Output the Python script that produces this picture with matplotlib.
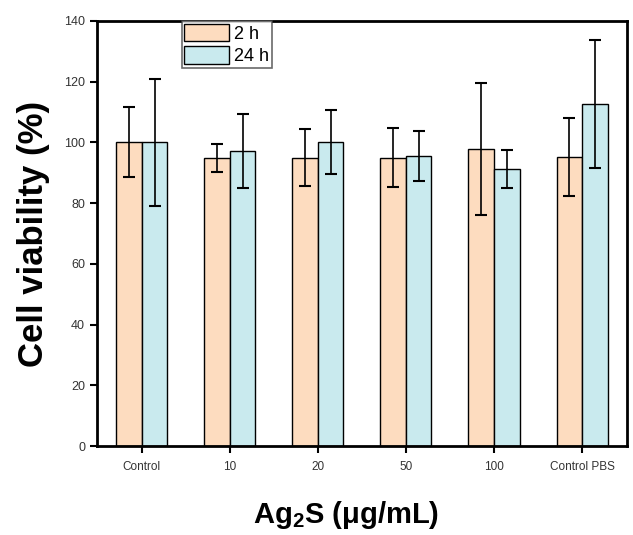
import numpy as np
import matplotlib.pyplot as plt

plt.rcParams['font.family'] = ['Liberation Sans', 'DejaVu Sans']
plt.rcParams['mathtext.fontset'] = 'custom'
plt.rcParams['mathtext.rm'] = 'Liberation Sans:bold'
plt.rcParams['mathtext.bf'] = 'Liberation Sans:bold'

categories = ['Control', '10', '20', '50', '100', 'Control PBS']
viability_2h = [100.0, 94.9, 95.0, 94.9, 97.8, 95.2]
err_2h = [11.5, 4.5, 9.5, 9.7, 21.6, 12.7]
viability_24h = [100.0, 97.2, 100.1, 95.5, 91.2, 112.6]
err_24h = [21.0, 12.2, 10.5, 8.2, 6.2, 21.0]

fig = plt.figure(figsize=(6.33, 5.35), dpi=100)
ax = fig.add_axes([0.153, 0.166, 0.8375, 0.795])

x = np.arange(len(categories))
width = 0.29

ax.bar(x - width / 2, viability_2h, width, color='#FDDCBF', edgecolor='black',
       linewidth=1.0, label='2 h')
ax.bar(x + width / 2, viability_24h, width, color='#C9EAEE', edgecolor='black',
       linewidth=1.0, label='24 h')
ax.errorbar(x - width / 2, viability_2h, yerr=err_2h, fmt='none', ecolor='black',
            elinewidth=1.2, capsize=4, capthick=1.5)
ax.errorbar(x + width / 2, viability_24h, yerr=err_24h, fmt='none', ecolor='black',
            elinewidth=1.2, capsize=4, capthick=1.5)

ax.set_xlim(-0.51, 5.51)
ax.set_ylim(0, 140)
ax.set_yticks(np.arange(0, 141, 20))
ax.set_xticks(x)
ax.set_xticklabels(categories)

for s in ax.spines.values():
    s.set_linewidth(2)
ax.tick_params(axis='both', direction='out', width=1.5, length=5, colors='black')
ax.tick_params(axis='y', labelsize=9, labelcolor='#333333')
ax.tick_params(axis='x', labelsize=8.5, labelcolor='#333333', pad=6)

ax.set_ylabel('Cell viability (%)', fontsize=25, fontweight='bold', labelpad=10)
ax.set_xlabel('Ag$_2$S (μg/mL)', fontsize=21, fontweight='bold')
ax.xaxis.set_label_coords(0.47, -0.125)

leg = ax.legend(loc='upper left', bbox_to_anchor=(0.16, 1.0), fontsize=13,
                frameon=True, fancybox=False, edgecolor='#444444',
                handlelength=2.45, handleheight=1.15, borderpad=0.15,
                labelspacing=0.2, handletextpad=0.3, borderaxespad=0)
leg.get_frame().set_linewidth(1.2)

fig.savefig('out.png', dpi=100)
